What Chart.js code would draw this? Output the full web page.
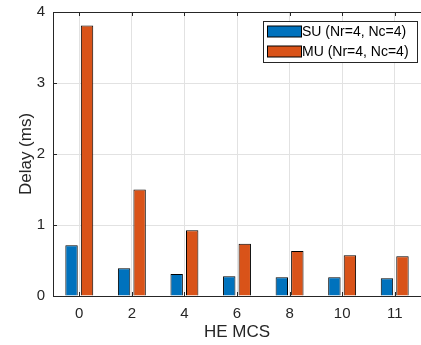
<!DOCTYPE html>
<html>
<head>
<meta charset="utf-8">
<script src="https://cdn.jsdelivr.net/npm/chart.js@4/dist/chart.umd.min.js"></script>
<style>
  html, body { margin: 0; padding: 0; background: #fff; }
  #wrap { width: 421px; height: 345px; }
</style>
</head>
<body>
<div id="wrap"><canvas id="c" width="421" height="345"></canvas></div>
<script>
// data
const mcsLabels = ['0', '2', '4', '6', '8', '10', '11'];
const suDelay = [0.714, 0.39, 0.31, 0.277, 0.263, 0.263, 0.249];
const muDelay = [3.81, 1.50, 0.925, 0.737, 0.634, 0.573, 0.559];
const yTicks = [0, 1, 2, 3, 4];

const AX = '#262626';
const GRID = '#e2e2e2';
const FONT = 'Liberation Sans, Arial, Helvetica, sans-serif';

// MATLAB-like box: top line + inward tick marks
const boxPlugin = {
    id: 'box',
    afterDraw(chart) {
        const {ctx, chartArea: a, scales} = chart;
        ctx.save();
        ctx.strokeStyle = AX;
        ctx.lineWidth = 1;
        ctx.beginPath();
        ctx.moveTo(a.left, a.top + 0.5);
        ctx.lineTo(a.right, a.top + 0.5);
        mcsLabels.forEach((l, i) => {
            const x = Math.round(scales.x.getPixelForValue(i)) + 0.5;
            ctx.moveTo(x, a.top); ctx.lineTo(x, a.top + 4);
            ctx.moveTo(x, a.bottom); ctx.lineTo(x, a.bottom - 4);
        });
        yTicks.forEach(v => {
            const y = Math.round(scales.y.getPixelForValue(v)) + 0.5;
            ctx.moveTo(a.left, y); ctx.lineTo(a.left + 4, y);
        });
        ctx.stroke();
        ctx.restore();
    }
};

// legend box inside the plot, top right
const legendPlugin = {
    id: 'boxLegend',
    afterDraw(chart) {
        const ctx = chart.ctx;
        const bx = 263, by = 21, bw = 154, bh = 41;
        ctx.save();
        ctx.fillStyle = '#fff';
        ctx.fillRect(bx, by, bw, bh);
        ctx.strokeStyle = AX;
        ctx.lineWidth = 1;
        ctx.strokeRect(bx + 0.5, by + 0.5, bw, bh);
        ctx.font = '14px ' + FONT;
        ctx.textBaseline = 'middle';
        chart.data.datasets.forEach((ds, i) => {
            const cy = by + 10.5 + i * 20;
            ctx.fillStyle = ds.backgroundColor;
            ctx.fillRect(bx + 4, cy - 5.5, 34, 11);
            ctx.strokeStyle = '#000';
            ctx.strokeRect(bx + 4.5, cy - 5.5, 34, 11);
            ctx.fillStyle = '#000';
            ctx.fillText(ds.label, bx + 39, cy + 0.5);
        });
        ctx.restore();
    }
};

new Chart(document.getElementById('c'), {
    type: 'bar',
    data: {
        labels: mcsLabels,
        datasets: [
            { label: 'SU (Nr=4, Nc=4)', data: suDelay, backgroundColor: '#0072BD', borderColor: '#000', borderWidth: 1 },
            { label: 'MU (Nr=4, Nc=4)', data: muDelay, backgroundColor: '#D95319', borderColor: '#000', borderWidth: 1 }
        ]
    },
    options: {
        responsive: false,
        animation: false,
        events: [],
        categoryPercentage: 0.59,
        barPercentage: 0.8,
        layout: { padding: { top: 12, right: 0, left: 0, bottom: 0 } },
        plugins: { legend: { display: false }, tooltip: { enabled: false } },
        scales: {
            x: {
                grid: { color: GRID, offset: false, drawTicks: false },
                border: { color: AX, width: 1 },
                ticks: { color: AX, font: { family: FONT, size: 15 }, padding: 9, maxRotation: 0 },
                title: { display: true, text: 'HE MCS', color: AX, font: { family: FONT, size: 17 }, padding: { top: 0, bottom: 2 } },
                afterFit(s) { s.height = 49; s.paddingLeft = 0; s.paddingRight = 0; }
            },
            y: {
                min: 0, max: 4,
                grid: { color: GRID, drawTicks: false },
                border: { color: AX, width: 1 },
                ticks: { stepSize: 1, color: AX, font: { family: FONT, size: 15 }, padding: 8 },
                title: { display: true, text: 'Delay (ms)', color: AX, font: { family: FONT, size: 17 }, padding: { top: 16, bottom: 0 } },
                afterFit(s) { s.width = 53; s.paddingTop = 0; s.paddingBottom = 0; }
            }
        }
    },
    plugins: [boxPlugin, legendPlugin]
});
</script>
</body>
</html>
